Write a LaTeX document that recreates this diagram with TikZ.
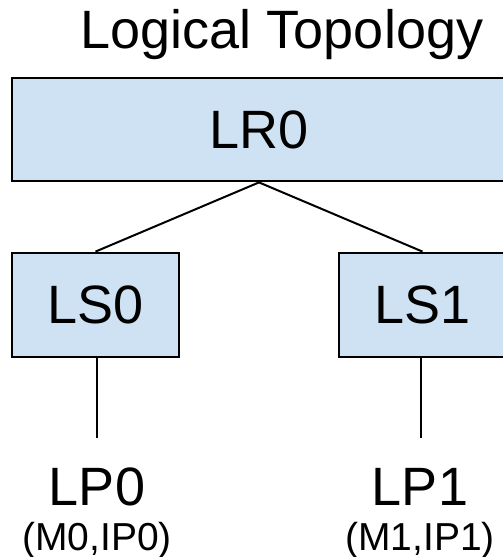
\documentclass[tikz,border=0pt]{standalone}
\usepackage{fontspec}
\setmainfont{Liberation Sans}
\usepackage{tikz}
\usetikzlibrary{positioning}
\definecolor{boxbg}{HTML}{CFE2F3}

\begin{document}
\begin{tikzpicture}[x=1pt,y=-1pt,
  bx/.style={draw=black,fill=boxbg,line width=2.8pt,inner sep=0pt,
             font=\fontsize{54}{60}\selectfont},
  big/.style={inner sep=0pt,font=\fontsize{54}{60}\selectfont,anchor=base},
  sm/.style={inner sep=0pt,font=\fontsize{39}{44}\selectfont,anchor=base},
  l/.style={black,line width=2pt}]
\useasboundingbox (0,0) rectangle (503,557);
\node[big] (title) at (282,48) {Logical Topology};
\node[bx,minimum width=494pt,minimum height=103pt] (lr0) at (259,129.5) {LR0};
\node[bx,minimum width=167pt,minimum height=104pt] (ls0) at (95.5,305) {LS0\hspace{8pt}};
\node[bx,minimum width=167pt,minimum height=104pt] (ls1) at (422.5,305) {LS1\hspace{8pt}};
\draw[l] (lr0.south) -- (ls0.north);
\draw[l] (lr0.south) -- (ls1.north);
% ports hanging below the switches
\coordinate (e0) at (97,438);
\coordinate (e1) at (421,438);
\draw[l] (ls0.south -| e0) -- (e0);
\draw[l] (ls1.south -| e1) -- (e1);
\node[big] (lp0) at (97,505) {LP0};
\node[big] (lp1) at (420,505) {LP1};
\node[sm] (lp0a) at (97,550) {(M0,IP0)};
\node[sm] (lp1a) at (420,550) {(M1,IP1)};
\end{tikzpicture}
\end{document}
